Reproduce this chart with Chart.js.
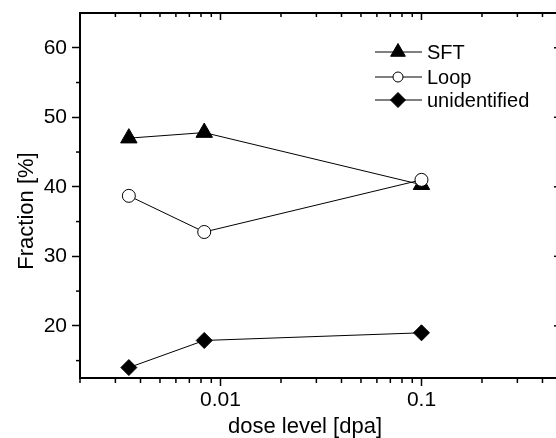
<!DOCTYPE html>
<html><head><meta charset="utf-8">
<script src="https://cdn.jsdelivr.net/npm/chart.js@4/dist/chart.umd.min.js"></script>
<style>html,body{margin:0;padding:0;overflow:hidden;background:#fff}
#c{display:block}</style>
</head><body>
<canvas id="c" width="556" height="438" style="width:556px;height:438px"></canvas>
<script>
const doses = [0.0035, 0.0083, 0.1];
const sftValues = [47.0, 47.8, 40.3];
const loopValues = [38.7, 33.5, 41.0];
const unidentifiedValues = [14.0, 17.9, 19.0];
const seriesLabels = ['SFT', 'Loop', 'unidentified'];
const xMajorTicks = [0.01, 0.1];
const xMinorTicks = [0.002,0.003,0.004,0.005,0.006,0.007,0.008,0.009,0.02,0.03,0.04,0.05,0.06,0.07,0.08,0.09,0.2,0.3,0.4];
const yMajorTicks = [20, 30, 40, 50, 60];
const yMinorTicks = [15, 25, 35, 45, 55];
const xFrameMax = 0.5;      // right frame of the plot (just beyond the visible edge)
const xVisibleMax = 0.467;  // value at the visible right edge
const xTitle = 'dose level [dpa]';
const yTitle = 'Fraction [%]';

const FONT = 'Liberation Sans, Arial, sans-serif';

function pts(vals) { return doses.map((d, i) => ({x: d, y: vals[i]})); }

const framePlugin = {
  id: 'frame',
  afterDraw(chart) {
    const {ctx, chartArea: a, scales: {x, y}} = chart;
    const fr = x.getPixelForValue(xFrameMax);
    ctx.save();
    ctx.strokeStyle = '#000';
    const seg = (x1, y1, x2, y2) => { ctx.beginPath(); ctx.moveTo(x1, y1); ctx.lineTo(x2, y2); ctx.stroke(); };
    ctx.lineWidth = 2;
    seg(a.left - 1, a.top, fr + 1, a.top);
    seg(a.right, a.bottom, fr + 1, a.bottom);
    seg(fr, a.top, fr, a.bottom + 1);
    ctx.lineWidth = 1.5;
    xMinorTicks.forEach(v => { const px = x.getPixelForValue(v); seg(px, a.bottom, px, a.bottom + 5); seg(px, a.top, px, a.top + 4); });
    xMajorTicks.forEach(v => { const px = x.getPixelForValue(v); seg(px, a.top, px, a.top + 7); });
    yMinorTicks.forEach(v => { const py = y.getPixelForValue(v); seg(a.left, py, a.left - 4, py); seg(fr, py, fr - 4, py); });
    yMajorTicks.forEach(v => { const py = y.getPixelForValue(v); seg(fr, py, fr - 8, py); });
    // axis titles
    ctx.fillStyle = '#000';
    ctx.font = '22px ' + FONT;
    ctx.textAlign = 'center';
    ctx.textBaseline = 'alphabetic';
    ctx.fillText(xTitle, 305, 433);
    ctx.save();
    ctx.translate(32.5, 211);
    ctx.rotate(-Math.PI / 2);
    ctx.fillText(yTitle, 0, 0);
    ctx.restore();
    ctx.restore();
  }
};

const legendPlugin = {
  id: 'customLegend',
  afterDraw(chart) {
    const ctx = chart.ctx;
    const x0 = 375, x1 = 422, mx = 398, tx = 427;
    const rows = [52, 77, 100];
    const radii = [8.5, 5, 7.5];
    ctx.save();
    chart.data.datasets.forEach((ds, i) => {
      const yy = rows[i];
      ctx.strokeStyle = '#000'; ctx.lineWidth = 1;
      ctx.beginPath(); ctx.moveTo(x0, yy); ctx.lineTo(x1, yy); ctx.stroke();
      ctx.fillStyle = ds.pointBackgroundColor; ctx.strokeStyle = ds.pointBorderColor; ctx.lineWidth = 1;
      Chart.helpers.drawPoint(ctx, {pointStyle: ds.pointStyle, radius: radii[i], borderWidth: 1, rotation: 0}, mx, yy);
      ctx.fillStyle = '#000';
      ctx.font = '20px ' + FONT;
      ctx.textBaseline = 'middle';
      ctx.textAlign = 'left';
      ctx.fillText(ds.label, tx, yy + 1);
    });
    ctx.restore();
  }
};

const chart = new Chart(document.getElementById('c'), {
  type: 'line',
  data: {
    datasets: [
      {label: seriesLabels[0], data: pts(sftValues), order: 2, borderColor: '#000', borderWidth: 1,
       pointStyle: 'triangle', pointRadius: 9.5, pointBackgroundColor: '#000', pointBorderColor: '#000', pointBorderWidth: 1},
      {label: seriesLabels[1], data: pts(loopValues), order: 1, borderColor: '#000', borderWidth: 1,
       pointStyle: 'circle', pointRadius: 6.5, pointBackgroundColor: '#fff', pointBorderColor: '#000', pointBorderWidth: 1},
      {label: seriesLabels[2], data: pts(unidentifiedValues), order: 0, borderColor: '#000', borderWidth: 1,
       pointStyle: 'rectRot', pointRadius: 8, pointBackgroundColor: '#000', pointBorderColor: '#000', pointBorderWidth: 1}
    ]
  },
  options: {
    responsive: false,
    maintainAspectRatio: false,
    animation: false,
    devicePixelRatio: 1,
    layout: {autoPadding: false, padding: {left: 0, top: 13, right: 0, bottom: 0}},
    plugins: {legend: {display: false}, tooltip: {enabled: false}},
    elements: {line: {tension: 0}},
    scales: {
      x: {
        type: 'logarithmic', min: 0.002, max: xVisibleMax, position: 'bottom',
        afterBuildTicks: s => { s.ticks = xMajorTicks.map(v => ({value: v, major: true})); },
        afterFit: s => { s.height = 60; s.paddingLeft = 0; s.paddingRight = 0; },
        grid: {display: true, drawOnChartArea: false, drawTicks: true, tickLength: 8, tickColor: '#000', tickWidth: 1.5},
        border: {display: true, color: '#000', width: 2},
        ticks: {color: '#000', font: {family: FONT, size: 21}, padding: 2, maxRotation: 0, autoSkip: false,
                callback: v => String(v)},
        title: {display: false, text: xTitle}
      },
      y: {
        type: 'linear', min: 12.5, max: 65, position: 'left',
        afterBuildTicks: s => { s.ticks = yMajorTicks.map(v => ({value: v})); },
        afterFit: s => { s.width = 80; s.paddingTop = 0; s.paddingBottom = 0; },
        grid: {display: true, drawOnChartArea: false, drawTicks: true, tickLength: 8, tickColor: '#000', tickWidth: 1.5},
        border: {display: true, color: '#000', width: 2},
        ticks: {color: '#000', font: {family: FONT, size: 21}, padding: 5, callback: v => String(v)},
        title: {display: false, text: yTitle}
      }
    }
  },
  plugins: [framePlugin, legendPlugin]
});
</script>
</body></html>
